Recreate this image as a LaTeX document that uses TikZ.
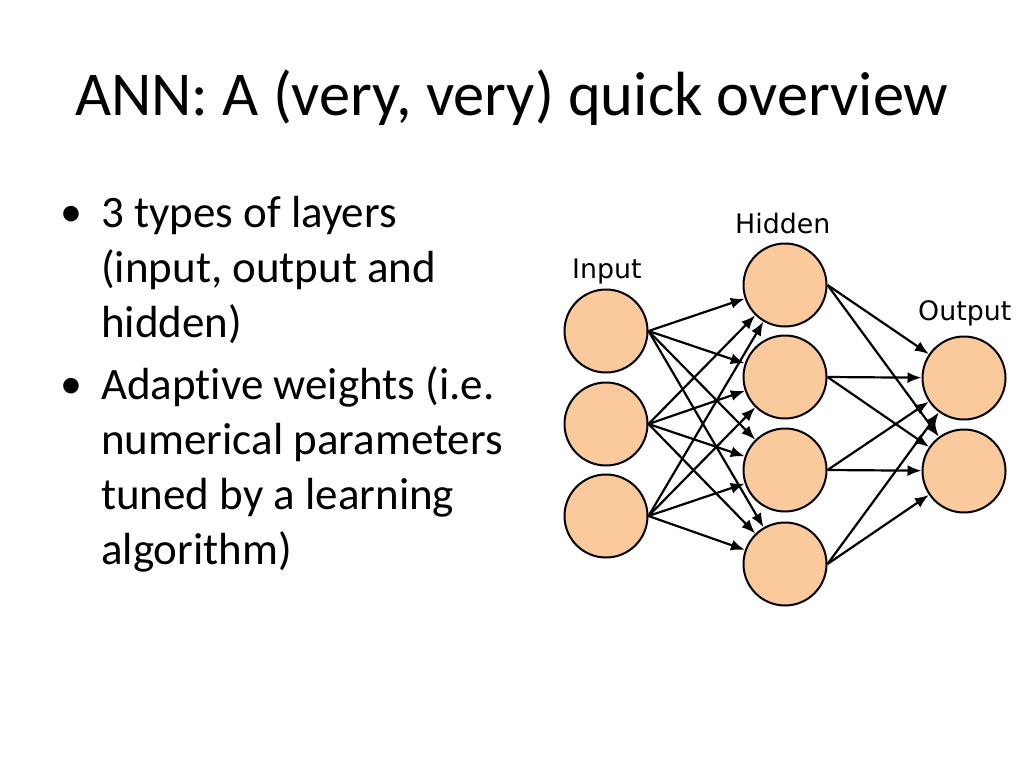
\documentclass[tikz,border=0pt]{standalone}
\usepackage{fontspec}
\setmainfont{Carlito}[Ligatures={NoCommon}]
\newfontfamily\layerfont{DejaVu Sans}
\usepackage{tikz}
\usetikzlibrary{arrows.meta}
\definecolor{neuron}{RGB}{250,201,156}

\tikzset{
  unit/.style={circle,draw=black,line width=2pt,fill=neuron,minimum size=83pt,inner sep=0pt},
  wire/.style={line width=2.2pt,-{Latex[length=14pt,width=11pt]}},
  layername/.style={anchor=base west,inner sep=0pt,font=\layerfont\fontsize{26.8}{32}\selectfont},
  bullettext/.style={anchor=base west,inner sep=0pt,text width=440pt,align=flush left,font=\fontsize{45}{55}\selectfont},
  bulletdot/.style={anchor=base west,inner sep=0pt,font=\fontsize{44}{55}\selectfont}
}

\begin{document}
\begin{tikzpicture}[x=1pt,y=-1pt]
    \useasboundingbox[fill=white] (0,0) rectangle (1024,768);

    % title and bullets
    \node[anchor=base west,inner sep=0pt,font=\fontsize{62.4}{70}\selectfont] (title) at (75,115) {ANN: A (very, very) quick overview};
    \node[bulletdot] (dot1) at (60,226) {\textbullet};
    \node[bullettext] (item1) at (101,227) {3 types of layers\\(input, output and\\hidden)};
    \node[bulletdot] (dot2) at (60,398) {\textbullet};
    \node[bullettext] (item2) at (101,399) {Adaptive weights (i.e.\\numerical parameters\\tuned by a learning\\algorithm)};

    % the network
    \begin{scope}
    \node[unit] (in1) at (606,331) {};
    \node[unit] (in2) at (606,424) {};
    \node[unit] (in3) at (606,516) {};

    \node[unit] (hid1) at (785,285) {};
    \node[unit] (hid2) at (785,377) {};
    \node[unit] (hid3) at (785,470) {};
    \node[unit] (hid4) at (785,564) {};

    \node[unit] (out1) at (964,378) {};
    \node[unit] (out2) at (964,471) {};

    \node[layername] (inlabel) at (572,278) {Input};
    \node[layername] (hidlabel) at (735,233) {Hidden};
    \node[layername] (outlabel) at (918,320) {Output};

    \draw[wire] (in1.east) -- (hid1);
    \draw[wire] (in1.east) -- (hid2);
    \draw[wire] (in1.east) -- (hid3);
    \draw[wire] (in1.east) -- (hid4);
    \draw[wire] (in2.east) -- (hid1);
    \draw[wire] (in2.east) -- (hid2);
    \draw[wire] (in2.east) -- (hid3);
    \draw[wire] (in2.east) -- (hid4);
    \draw[wire] (in3.east) -- (hid1);
    \draw[wire] (in3.east) -- (hid2);
    \draw[wire] (in3.east) -- (hid3);
    \draw[wire] (in3.east) -- (hid4);

    \draw[wire] (hid1.east) -- (out1);
    \draw[wire] (hid1.east) -- (out2);
    \draw[wire] (hid2.east) -- (out1);
    \draw[wire] (hid2.east) -- (out2);
    \draw[wire] (hid3.east) -- (out1);
    \draw[wire] (hid3.east) -- (out2);
    \draw[wire] (hid4.east) -- (out1);
    \draw[wire] (hid4.east) -- (out2);
    \end{scope}
\end{tikzpicture}
\end{document}
